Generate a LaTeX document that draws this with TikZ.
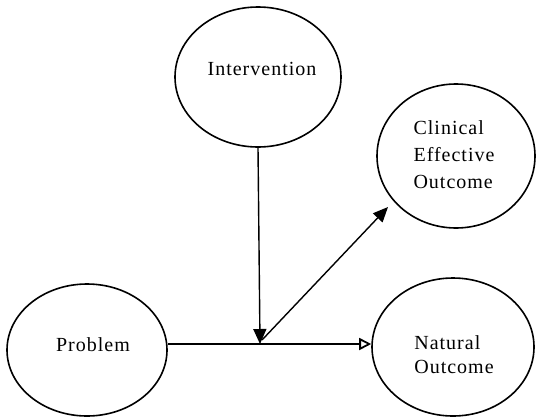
\documentclass[tikz,border=0pt]{standalone}
\usepackage{fontspec}
\setmainfont{Liberation Serif}[LetterSpace=5]
\usetikzlibrary{shapes.geometric,arrows.meta}
\begin{document}
\begin{tikzpicture}[x=1pt,y=-1pt,
  oval/.style={draw, line width=1.6pt, ellipse, inner sep=0pt},
  lbl/.style={font=\fontsize{20}{27}\selectfont, align=left, inner sep=0pt},
  conn/.style={line width=1.4pt},
  tip/.style={-{Triangle[width=13pt,length=15pt]}},
  opentip/.style={-{Triangle[open,width=12pt,length=12pt,line width=1.8pt]}}]
\useasboundingbox (0,0) rectangle (537,418);
\node[oval, minimum width=166pt, minimum height=140pt] (int) at (258,77) {};
\node[oval, minimum width=158pt, minimum height=144pt] (cli) at (456,156) {};
\node[oval, minimum width=160pt, minimum height=132pt] (pro) at (87,350) {};
\node[oval, minimum width=162pt, minimum height=138pt] (nat) at (453,347) {};
\node[lbl] (tint) at (262,69) {Intervention};
\node[lbl] (tcli) at (454,155) {Clinical\\Effective\\Outcome};
\node[lbl] (tpro) at (93,345) {Problem};
\node[lbl, font=\fontsize{20}{24}\selectfont] (tnat) at (454,355) {Natural\\Outcome};
\coordinate (j) at (260,344);
\coordinate (jd) at (262,340);
\draw[conn, opentip] (pro.east |- j) -- (nat.west |- j);
\draw[conn, tip] (int.south) -- (j);
\draw[conn, tip] (jd) -- (388,207) coordinate (ct);
\end{tikzpicture}
\end{document}
